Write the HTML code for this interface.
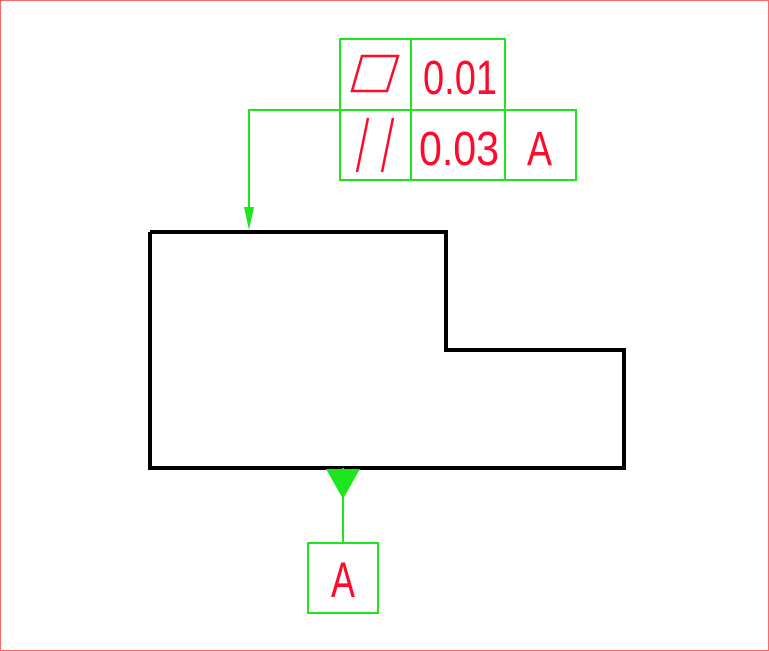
<!DOCTYPE html>
<html><head><meta charset="utf-8"><style>
html,body{margin:0;padding:0;background:#fff;}
svg{display:block;}
text{font-family:"Liberation Sans",sans-serif;fill:#ff0a2a;}
</style></head><body>
<svg width="769" height="651" viewBox="0 0 769 651" xmlns="http://www.w3.org/2000/svg">
<rect x="0.5" y="0.5" width="768" height="650" fill="#fff" stroke="#ff6666" stroke-width="1"/>
<polyline points="150,232 446,232 446,350 624,350 624,468 150,468 150,232" fill="none" stroke="#000" stroke-width="4" stroke-linejoin="miter"/>
<g fill="none" stroke="#1ee61e" stroke-width="2">
<rect x="340" y="39" width="165" height="71"/>
<rect x="340" y="110" width="236" height="70"/>
<line x1="411" y1="39" x2="411" y2="180"/>
<line x1="505" y1="110" x2="505" y2="180"/>
<polyline points="340,110 249,110 249,216"/>
<line x1="343" y1="468" x2="343" y2="543"/>
<rect x="308" y="543" width="70" height="70"/>
</g>
<polygon points="244,207 254,207 249,230" fill="#1ee61e"/>
<polygon points="326,469 360,469 343,499" fill="#1ee61e"/>
<polygon points="362,56 398,56 387,91 352,91" fill="none" stroke="#ff0a2a" stroke-width="2.5"/>
<line x1="368" y1="118" x2="357" y2="172" stroke="#ff0a2a" stroke-width="2.5"/>
<line x1="393" y1="118" x2="382" y2="172" stroke="#ff0a2a" stroke-width="2.5"/>
<text x="423" y="94" font-size="48" textLength="74" lengthAdjust="spacingAndGlyphs">0.01</text>
<text x="419" y="165" font-size="48" textLength="80" lengthAdjust="spacingAndGlyphs">0.03</text>
<text x="527" y="165" font-size="48" textLength="25" lengthAdjust="spacingAndGlyphs">A</text>
<text x="331" y="597" font-size="50" textLength="24" lengthAdjust="spacingAndGlyphs">A</text>
</svg>
</body></html>
